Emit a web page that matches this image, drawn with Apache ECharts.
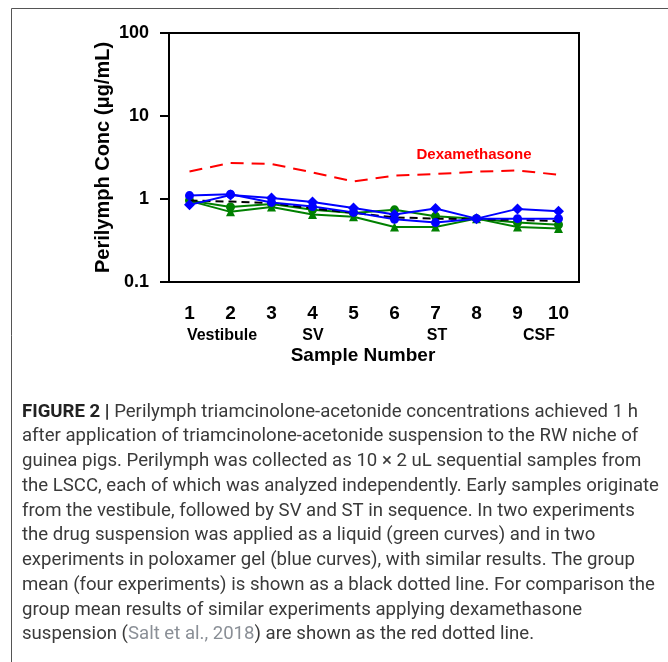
<!DOCTYPE html>
<html>
<head>
<meta charset="utf-8">
<script src="https://cdn.jsdelivr.net/npm/echarts@6/dist/echarts.min.js"></script>
<style>
  html, body {margin: 0; padding: 0; background: #fff;}
  #chart {width: 668px; height: 662px;}
</style>
</head>
<body>
<div id="chart"></div>
<script>
// sample numbers along the x axis
const samples = ['1', '2', '3', '4', '5', '6', '7', '8', '9', '10'];
// y axis ticks (log scale)
const yTicks = [0.1, 1, 10, 100];

// poloxamer gel experiments (blue)
const gelDiamond = [0.85, 1.12, 1.03, 0.92, 0.78, 0.65, 0.77, 0.58, 0.76, 0.71];
const gelCircle = [1.10, 1.14, 0.91, 0.81, 0.69, 0.57, 0.52, 0.58, 0.58, 0.58];
// liquid experiments (green)
const liquidCircle = [0.96, 0.80, 0.87, 0.74, 0.68, 0.74, 0.62, 0.58, 0.52, 0.49];
const liquidTriangle = [0.95, 0.70, 0.80, 0.65, 0.61, 0.46, 0.46, 0.58, 0.46, 0.44];
// group mean of the four experiments
const groupMean = [0.96, 0.93, 0.89, 0.77, 0.68, 0.60, 0.58, 0.57, 0.56, 0.54];
// dexamethasone group mean (Salt et al., 2018)
const dexMean = [2.15, 2.72, 2.64, 2.09, 1.63, 1.91, 2.00, 2.13, 2.21, 1.96];

// region labels under the axis: [text, x]
const regions = [['Vestibule', 222], ['SV', 313], ['ST', 437], ['CSF', 539]];

const caption = [
    '{b|FIGURE 2 |} Perilymph triamcinolone-acetonide concentrations achieved 1 h',
    'after application of triamcinolone-acetonide suspension to the RW niche of',
    'guinea pigs. Perilymph was collected as 10 \u00d7 2 uL sequential samples from',
    'the LSCC, each of which was analyzed independently. Early samples originate',
    'from the vestibule, followed by SV and ST in sequence. In two experiments',
    'the drug suspension was applied as a liquid (green curves) and in two',
    'experiments in poloxamer gel (blue curves), with similar results. The group',
    'mean (four experiments) is shown as a black dotted line. For comparison the',
    'group mean results of similar experiments applying dexamethasone',
    'suspension ({l|Salt et al., 2018}) are shown as the red dotted line.'
];

const FONT = 'Liberation Sans, Arial, sans-serif';
const BLUE = '#0000ff';
const GREEN = '#008000';
const CAP_SIZE = 18.6;

function lineSeries (name, data, color, symbol, size) {
    return {
        name,
        type: 'line',
        data,
        symbol,
        symbolSize: size,
        showSymbol: symbol !== 'none',
        lineStyle: {color, width: 2},
        itemStyle: {color},
        animation: false
    };
}

const chart = echarts.init(document.getElementById('chart'));

const graphics = [
    {type: 'line', shape: {x1: 11.5, y1: 8.5, x2: 668, y2: 8.5}, style: {stroke: '#555', lineWidth: 1}},
    {type: 'line', shape: {x1: 11.5, y1: 8.5, x2: 11.5, y2: 662}, style: {stroke: '#555', lineWidth: 1}},
    {
        type: 'text', x: 474, y: 155,
        style: {text: 'Dexamethasone', fill: '#ff0000', font: 'bold 15px ' + FONT, align: 'center', verticalAlign: 'middle'}
    },
    {
        type: 'text', x: 363, y: 356,
        style: {text: 'Sample Number', fill: '#000', font: 'bold 19px ' + FONT, align: 'center', verticalAlign: 'middle'}
    }
];

regions.forEach(([text, x]) => {
    graphics.push({
        type: 'text', x, y: 336,
        style: {text, fill: '#000', font: 'bold 16px ' + FONT, align: 'center', verticalAlign: 'middle'}
    });
});

caption.forEach((text, i) => {
    graphics.push({
        type: 'text', x: 22, y: 412 + i * 24.75,
        style: {
            text,
            fill: '#3a3a3a',
            fontFamily: 'Roboto',
            fontSize: CAP_SIZE,
            verticalAlign: 'middle',
            rich: {
                b: {fontFamily: 'Roboto', fontWeight: 'bold', fontSize: CAP_SIZE, fill: '#222'},
                l: {fontFamily: 'Roboto', fontSize: CAP_SIZE, fill: '#8a8f96'}
            }
        }
    });
});

chart.setOption({
    backgroundColor: '#fff',
    animation: false,
    grid: {
        left: 169, right: 89, top: 33, bottom: 380,
        show: true, borderColor: '#000', borderWidth: 2, backgroundColor: 'transparent'
    },
    xAxis: {
        type: 'category',
        data: samples,
        boundaryGap: true,
        axisLine: {lineStyle: {color: '#000', width: 2}},
        axisTick: {alignWithLabel: true, length: 10, lineStyle: {color: '#000', width: 2}},
        axisLabel: {color: '#000', fontFamily: FONT, fontWeight: 'bold', fontSize: 19, margin: 22}
    },
    yAxis: {
        type: 'log',
        logBase: 10,
        min: yTicks[0],
        max: yTicks[yTicks.length - 1],
        name: 'Perilymph Conc (\u03bcg/mL)',
        nameLocation: 'middle',
        nameGap: 56,
        nameMoveOverlap: false,
        nameTextStyle: {color: '#000', fontFamily: FONT, fontWeight: 'bold', fontSize: 20},
        axisLine: {show: true, lineStyle: {color: '#000', width: 2}},
        axisTick: {show: true, length: 9, lineStyle: {color: '#000', width: 2}},
        minorTick: {show: false},
        splitLine: {show: false},
        axisLabel: {
            color: '#000', fontFamily: FONT, fontWeight: 'bold', fontSize: 18, margin: 20,
            formatter: v => (v < 1 ? v.toFixed(1) : String(Math.round(v)))
        }
    },
    series: [
        Object.assign(lineSeries('liquid A', liquidCircle, GREEN, 'circle', 9), {z: 2}),
        Object.assign(lineSeries('liquid B', liquidTriangle, GREEN, 'triangle', 9), {z: 2}),
        Object.assign(lineSeries('mean', groupMean, '#000', 'none', 0), {
            z: 3, lineStyle: {color: '#000', width: 2, type: [8, 5]}
        }),
        Object.assign(lineSeries('gel A', gelDiamond, BLUE, 'diamond', 11), {z: 4}),
        Object.assign(lineSeries('gel B', gelCircle, BLUE, 'circle', 9), {z: 4}),
        Object.assign(lineSeries('dexamethasone', dexMean, '#ff0000', 'none', 0), {
            z: 5, lineStyle: {color: '#ff0000', width: 2, type: [13, 8]}
        })
    ],
    graphic: graphics
});
</script>
</body>
</html>
